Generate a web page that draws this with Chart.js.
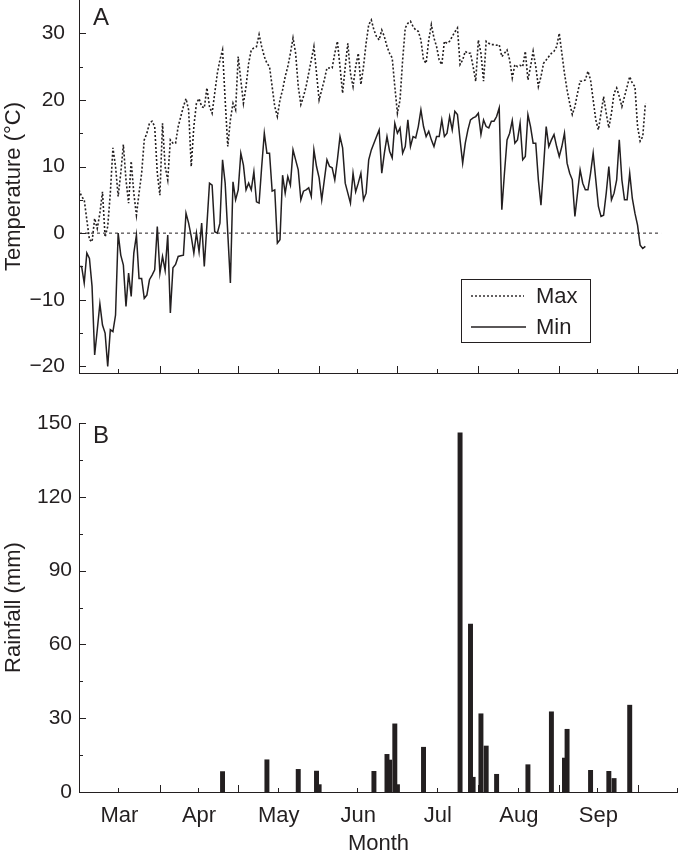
<!DOCTYPE html>
<html>
<head>
<meta charset="utf-8">
<script src="https://cdn.jsdelivr.net/npm/chart.js@4.4.1/dist/chart.umd.min.js"></script>
<style>
  html, body { margin: 0; padding: 0; background: #fff; }
  #wrap { position: relative; width: 678px; height: 857px; }
  canvas { position: absolute; left: 0; }
  #tempChart { top: 0; }
  #rainChart { top: 385px; }
</style>
</head>
<body>
<div id="wrap">
  <canvas id="tempChart" width="678" height="385"></canvas>
  <canvas id="rainChart" width="678" height="472"></canvas>
</div>
<script>
const INK = '#231f20';
const FONT = '"Liberation Sans", Arial, Helvetica, sans-serif';

// x axis: days since 1 March
const monthLabels = ['Mar', 'Apr', 'May', 'Jun', 'Jul', 'Aug', 'Sep'];
const monthStarts = [0, 31, 61, 92, 122, 153, 184, 214];
const monthMids = [15.5, 46, 76.5, 107, 137.5, 168.5, 199, 229.5];
const dayMax = 229.5;

const tempMajor = [-20, -10, 0, 10, 20, 30];
const tempMinor = [-15, -5, 5, 15, 25];
const rainMajor = [0, 30, 60, 90, 120, 150];
const rainMinor = [15, 45, 75, 105, 135];

// daily max / min air temperature (°C), day 0 = 1 March
const maxTemp = [
  6.5, 5.5, 5, 2, -1, -1.3, 2.2, 0.7, 3, 6.2,
  -0.6, 1, 6, 12.8, 10, 5.5, 9, 13.3, 8, 4.5,
  10.8, 6, 2.7, 6, 9, 14, 15, 16.5, 16.8, 16,
  9, 5.7, 16.5, 10, 8, 14, 13.5, 13.5, 16, 17.5,
  19, 20.2, 18.5, 10, 16, 19.5, 20.2, 19, 18.8, 21.8,
  19, 18, 21, 24, 26, 27.5, 20, 13, 17, 19.5,
  18.5, 26.5, 23, 19.5, 22, 25.5, 27.5, 27.8, 28, 29.8,
  28, 26.5, 25.5, 25, 22, 19, 17.5, 20, 21.5, 23.5,
  25, 27, 29.3, 27, 22, 19.3, 20.5, 22, 24, 26,
  28, 24, 20, 21.5, 23, 24.8, 24.8, 24.8, 27, 28.8,
  25, 21, 25, 28.5, 24, 22, 25, 27, 22.3, 25,
  28.5, 31.3, 32, 30.5, 29.5, 29, 30.5, 29.5, 28, 27,
  26.3, 22, 18, 20, 26, 30.8, 31.5, 31.8, 31, 30.5,
  30.3, 29, 26, 25.5, 29, 31.3, 29.3, 28, 26, 25.3,
  28.8, 28.5, 28.8, 29.5, 30.2, 30.8, 25.3, 26, 27.3, 27,
  27, 25, 22.8, 29, 27, 22.8, 28.8, 28.5, 28.3, 28.3,
  28.2, 28.3, 26.5, 27, 27.5, 26, 23.3, 25.3, 25, 25.2,
  25, 27.3, 23, 25, 27.3, 25, 22, 23.5, 25.5, 26,
  26.5, 27, 27.3, 28, 30, 27, 24, 21.5, 19.5, 17.8,
  19, 21, 22.8, 22.8, 23, 24.3, 23, 20, 17, 15.5,
  18, 20.5, 18, 15.8, 18, 21, 21.8, 20.5, 19, 20.5,
  22, 23.5, 22.5, 22, 16, 13.8, 14.5, 19.5
];
const minTemp = [
  -5, -5, -7.5, -3, -3.8, -8, -18.3, -14.5, -10.6, -13.8,
  -15, -20, -14.5, -14.8, -12.3, 0, -3.3, -4.8, -11, -6,
  -9.5, -3, -0.3, -6.8, -6.8, -9.8, -9.3, -7, -6.3, -5.5,
  1, -6, -3.5, -5.6, -0.3, -12, -5.2, -4.7, -3.5, -3.4,
  -3.3, 3, 1.5, -0.5, -3, 0, -2.8, 1.5, -5, 1.2,
  7.5, 7.2, 0.2, 0, 1.5, 11, 7.5, 0, -7.5, 7.7,
  5, 6.5, 12, 10.2, 6.5, 7.5, 6.5, 9.2, 4.7, 4.5,
  10, 15, 12, 12, 6.3, 6.5, -1.5, -1, 8.7, 6,
  8.5, 7.2, 12.5, 11, 9.5, 5, 6.3, 6.5, 6.8, 5.5,
  12.5, 10, 8.3, 5, 8, 11, 10, 9.8, 8, 11,
  14.5, 12.8, 7.5, 6, 4.5, 9, 6.2, 7.5, 9, 5,
  6, 11, 12.5, 13.5, 14.5, 15.5, 9, 12, 14.5, 12.3,
  11.3, 16.5, 15, 15.8, 12, 13, 17, 13, 14.5, 14.3,
  16, 18.5, 16, 14.5, 15.3, 14, 13, 14.5, 14.5, 17,
  14.5, 15, 17.5, 15.5, 18.3, 17.8, 14, 10.5, 13.5, 15.5,
  17, 17.3, 17.5, 18, 14.8, 17, 16, 15.8, 16.8, 16.8,
  17.5, 18.8, 3.5, 9, 14, 15, 16.9, 13.5, 14, 16.5,
  11, 11.5, 17.8, 16, 13.5, 13.5, 8, 4.2, 10, 16,
  13, 14, 14.8, 13, 11.5, 13, 15, 10.5, 9, 8,
  2.5, 6, 9.5, 7.5, 6.5, 6.5, 9, 12, 8, 4,
  2.5, 2.7, 6, 10, 5, 6, 8, 14, 8, 5,
  5, 9, 5.2, 3, 1.2, -1.8, -2.3, -2
];
const zeroLineDays = [0, 223];

// daily rainfall events (mm)
const rainDays = [55, 72, 84, 91, 92, 113, 118, 119, 121, 122, 132, 146, 150, 151, 154, 156, 160, 172, 181, 186, 187, 196, 203, 205, 211];
const rainMm = [8.3, 13.1, 9.2, 8.5, 3, 8.4, 15.3, 13, 27.7, 3, 18.2, 146, 68.3, 6, 31.8, 18.7, 7.2, 11.1, 32.6, 13.8, 25.5, 8.8, 8.4, 5.5, 35.3];

const fmt = v => v < 0 ? '\u2212' + (-v) : String(v);

// inward tick marks, panel letter and the boxed legend
const panelDecor = {
  id: 'panelDecor',
  afterDraw(chart, args, o) {
    const { ctx, chartArea: a, scales: { x, y } } = chart;
    ctx.save();
    ctx.strokeStyle = INK;
    ctx.lineWidth = 1;
    ctx.beginPath();
    monthStarts.forEach(v => {
      const px = Math.round(x.getPixelForValue(v)) + 0.5;
      ctx.moveTo(px, a.bottom); ctx.lineTo(px, a.bottom - 7);
    });
    monthMids.forEach(v => {
      const px = Math.round(x.getPixelForValue(v)) - 0.5;
      ctx.moveTo(px, a.bottom); ctx.lineTo(px, a.bottom - 4);
    });
    o.major.forEach(v => {
      const py = Math.round(y.getPixelForValue(v)) + 0.5;
      ctx.moveTo(a.left, py); ctx.lineTo(a.left + 7, py);
    });
    o.minor.forEach(v => {
      const py = Math.round(y.getPixelForValue(v)) + 0.5;
      ctx.moveTo(a.left, py); ctx.lineTo(a.left + 4, py);
    });
    ctx.stroke();

    ctx.fillStyle = INK;
    ctx.font = '24px ' + FONT;
    ctx.textBaseline = 'alphabetic';
    ctx.fillText(o.letter, a.left + 14, a.top + o.letterY);

    if (o.legend) {
      const L = o.legend;
      ctx.strokeRect(L.x + 0.5, L.y + 0.5, L.w, L.h);
      ctx.lineWidth = 1.4;
      ctx.setLineDash([2, 2]);
      ctx.beginPath();
      ctx.moveTo(L.x + 10, L.y + 17); ctx.lineTo(L.x + 63, L.y + 17);
      ctx.stroke();
      ctx.setLineDash([]);
      ctx.beginPath();
      ctx.moveTo(L.x + 10, L.y + 48); ctx.lineTo(L.x + 65, L.y + 48);
      ctx.stroke();
      ctx.font = '22px ' + FONT;
      ctx.textBaseline = 'middle';
      ctx.fillText('Max', L.x + 75, L.y + 18);
      ctx.fillText('Min', L.x + 75, L.y + 49);
    }
    ctx.restore();
  }
};

function dayAxis(showLabels, height) {
  return {
    type: 'linear', min: 0, max: dayMax, offset: false,
    afterBuildTicks: s => { s.ticks = monthMids.map(v => ({ value: v })); },
    afterFit: s => { s.height = height; s.paddingLeft = 0; s.paddingRight = 0; },
    ticks: {
      display: showLabels, autoSkip: false, maxRotation: 0, padding: 11,
      color: INK, font: { family: FONT, size: 22 },
      callback: (v, i) => monthLabels[i] || ''
    },
    grid: { display: false, drawTicks: false },
    border: { display: true, color: INK, width: 1 },
    title: {
      display: showLabels, text: 'Month', color: INK,
      font: { family: FONT, size: 22 }, padding: { top: 0, bottom: 0 }
    }
  };
}

function valueAxis(min, max, major, title, pad) {
  return {
    min: min, max: max,
    afterBuildTicks: s => { s.ticks = major.map(v => ({ value: v })); },
    afterFit: s => { s.width = 79; s.paddingTop = 0; s.paddingBottom = 0; },
    ticks: {
      autoSkip: false, padding: pad, color: INK,
      font: { family: FONT, size: 21 }, callback: v => fmt(v)
    },
    grid: { display: false, drawTicks: false },
    border: { display: true, color: INK, width: 1 },
    title: {
      display: true, text: title, color: INK,
      font: { family: FONT, size: 22 }, padding: { top: 1, bottom: 0 }
    }
  };
}

Chart.defaults.font.family = FONT;

new Chart(document.getElementById('tempChart'), {
  type: 'line',
  data: {
    datasets: [
      {
        label: 'Max',
        data: maxTemp.map((t, d) => ({ x: d, y: t })),
        borderColor: INK, borderWidth: 1.6, borderDash: [2, 2],
        pointRadius: 0, tension: 0, fill: false
      },
      {
        label: 'Min',
        data: minTemp.map((t, d) => ({ x: d, y: t })),
        borderColor: INK, borderWidth: 1.5,
        pointRadius: 0, tension: 0, fill: false
      },
      {
        label: 'zero',
        data: zeroLineDays.map(d => ({ x: d, y: 0 })),
        borderColor: INK, borderWidth: 1, borderDash: [3, 3],
        pointRadius: 0, fill: false
      }
    ]
  },
  options: {
    responsive: false, animation: false, events: [], devicePixelRatio: 1,
    layout: { padding: 0 },
    plugins: {
      legend: { display: false }, tooltip: { enabled: false },
      panelDecor: {
        major: tempMajor, minor: tempMinor, letter: 'A', letterY: 25,
        legend: { x: 461, y: 279, w: 129, h: 63 }
      }
    },
    scales: {
      x: dayAxis(false, 12),
      y: valueAxis(-21, 35, tempMajor, 'Temperature (°C)', 14)
    }
  },
  plugins: [panelDecor]
});

new Chart(document.getElementById('rainChart'), {
  type: 'bar',
  data: {
    datasets: [{
      label: 'Rainfall',
      data: rainDays.map((d, i) => ({ x: d, y: rainMm[i] })),
      backgroundColor: INK, borderWidth: 0, barThickness: 4.3
    }]
  },
  options: {
    responsive: false, animation: false, events: [], devicePixelRatio: 1,
    layout: { padding: { top: 38, left: 0, right: 0, bottom: 0 } },
    plugins: {
      legend: { display: false }, tooltip: { enabled: false },
      panelDecor: { major: rainMajor, minor: rainMinor, letter: 'B', letterY: 20 }
    },
    scales: {
      x: dayAxis(true, 65),
      y: valueAxis(0, 150, rainMajor, 'Rainfall (mm)', 7)
    }
  },
  plugins: [panelDecor]
});
</script>
</body>
</html>
